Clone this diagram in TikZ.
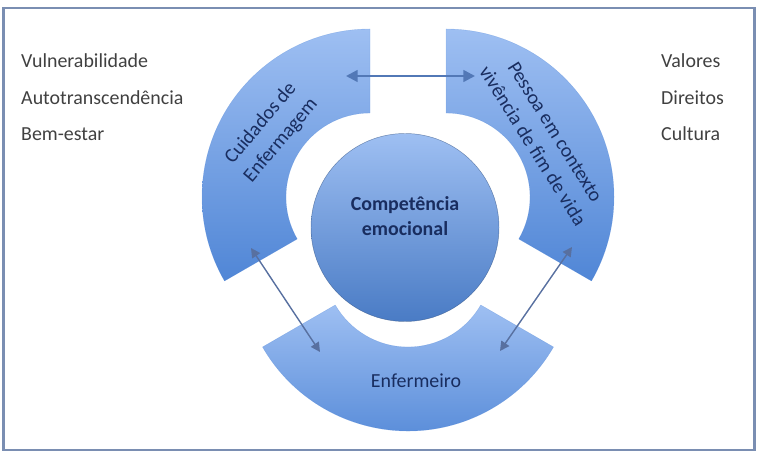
\documentclass[tikz,border=0pt]{standalone}
\usepackage{fontspec}
\setmainfont{Carlito}
\usetikzlibrary{arrows.meta,calc}
\definecolor{segtop}{RGB}{158,191,242}
\definecolor{segbot}{RGB}{80,134,214}
\definecolor{navytext}{RGB}{25,45,95}
\definecolor{graytext}{RGB}{64,64,64}
\definecolor{framecol}{RGB}{122,142,178}
\definecolor{arrowcol}{RGB}{82,120,182}
\definecolor{arrowcoltwo}{RGB}{88,112,160}
\begin{document}
\begin{tikzpicture}[x=0.03cm,y=0.03cm,
  seg/.style={top color=segtop,bottom color=segbot,draw=segbot,draw opacity=0.4,line width=0.3pt},
  listtext/.style={font=\fontsize{17}{20}\selectfont,text=graytext,inner sep=0pt},
  segtext/.style={font=\fontsize{17}{20.5}\selectfont,text=navytext,align=center,inner sep=0pt},
  toparrow/.style={draw=arrowcol,line width=2.1pt,>={Triangle[length=10pt,width=10pt]},<->},
  sidearrow/.style={draw=arrowcoltwo,line width=1.2pt,>={Triangle[length=8pt,width=8pt]},<->}]
\useasboundingbox (0,0) rectangle (761,457);
% frame
\draw[framecol,line width=2.2pt] (3.5,7) rectangle (754.5,449);
% ring segments (exploded)
\path[seg] (370,428) arc[start angle=90,end angle=210,radius=168] -- ++(30:84) arc[start angle=210,end angle=90,radius=84] -- cycle;
\path[seg] (446,428) arc[start angle=90,end angle=-30,radius=168] -- ++(150:84) arc[start angle=-30,end angle=90,radius=84] -- cycle;
\path[seg] (262.51,110) arc[start angle=210,end angle=330,radius=168] -- ++(150:84) arc[start angle=330,end angle=210,radius=84] -- cycle;
% centre circle
\node[circle,minimum size=5.64cm,inner sep=0pt,top color=segtop,bottom color=segbot!92!black,draw=segbot!60!black,draw opacity=0.6,line width=0.4pt] (core) at (405,229.5) {};
\node[font=\bfseries\fontsize{17}{21.3}\selectfont,text=navytext,align=center,inner sep=0pt] (comp) at (405,241) {Competência\\emocional};
% segment labels
\node[segtext,anchor=base] (enf) at (416,69) {Enfermeiro};
\node[segtext,rotate=50] (cuid) at (271,325) {Cuidados de\\[2pt]Enfermagem};
\node[segtext,rotate=-58] (pess) at (544,318) {Pessoa em contexto\\[2pt]vivência de fim de vida};
% side lists
\node[listtext,anchor=base west] (vul) at (21,389) {Vulnerabilidade};
\node[listtext,anchor=base west] (aut) at (21,352.5) {Autotranscendência};
\node[listtext,anchor=base west] (bem) at (21,316) {Bem-estar};
\node[listtext,anchor=base west] (val) at (661,389) {Valores};
\node[listtext,anchor=base west] (dir) at (661,352.5) {Direitos};
\node[listtext,anchor=base west] (cul) at (661,316) {Cultura};
% arrows
\coordinate (a1) at (346,381);
\coordinate (a2) at (475,381);
\coordinate (b1) at (251,209);
\coordinate (b2) at (320,105);
\coordinate (c1) at (572,210);
\coordinate (c2) at (500,106);
\draw[toparrow] (a1) -- (a2);
\draw[sidearrow] (b1) -- (b2);
\draw[sidearrow] (c1) -- (c2);
\end{tikzpicture}
\end{document}
